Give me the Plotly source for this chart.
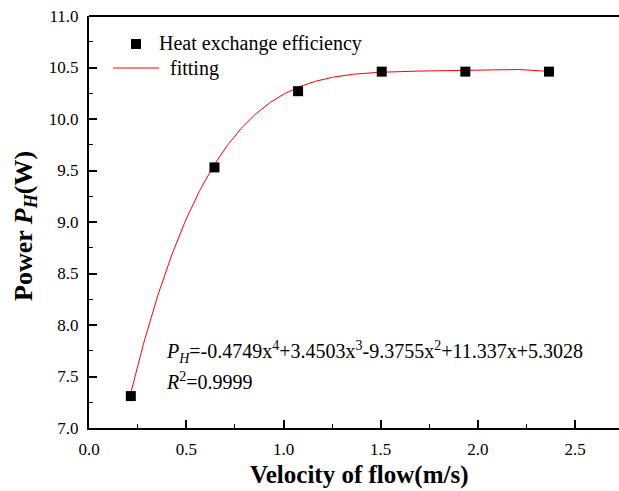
import numpy as np
import plotly.graph_objects as go

# Measured data: flow velocity (m/s) vs. heat power P_H (W)
velocity = [0.215, 0.645, 1.075, 1.505, 1.935, 2.365]
power = [7.31, 9.53, 10.27, 10.46, 10.46, 10.46]

# Quartic fit coefficients, highest power first
fit_coeffs = [-0.4749, 3.4503, -9.3755, 11.337, 5.3028]
r_squared = 0.9999

x_ticks = [0.0, 0.5, 1.0, 1.5, 2.0, 2.5]
y_ticks = [7.0, 7.5, 8.0, 8.5, 9.0, 9.5, 10.0, 10.5, 11.0]

series_names = ["Heat exchange efficiency", "fitting"]

FONT = "Liberation Serif"

# Plot-area geometry (px) used to place the hand-drawn legend
W, H = 619, 491
ML, MR, MT, MB = 89, 0, 16, 63
PW, PH = W - ML - MR, H - MT - MB


def px_x(p):
    return (p - ML) / PW


def px_y(p):
    return (H - MB - p) / PH


x_fit = np.linspace(velocity[0], velocity[-1], 300)
y_fit = np.polyval(fit_coeffs, x_fit)

fig = go.Figure()
fig.add_trace(go.Scatter(
    x=x_fit, y=y_fit, mode="lines", name=series_names[1],
    line=dict(color="red", width=1), showlegend=False,
))
fig.add_trace(go.Scatter(
    x=velocity, y=power, mode="markers", name=series_names[0],
    marker=dict(symbol="square", size=10, color="black"), showlegend=False,
))

axis_common = dict(
    showline=True, linecolor="black", linewidth=2,
    ticks="inside", ticklen=8, tickwidth=1.5, tickcolor="black",
    showgrid=False, zeroline=False,
    tickfont=dict(family=FONT, size=17, color="black"),
)

fig.update_xaxes(
    range=[0, 2.725], tickvals=x_ticks, ticktext=[f"{v:.1f}" for v in x_ticks],
    minor=dict(ticks="inside", ticklen=4, tickwidth=1, tickcolor="black", dtick=0.25, tick0=0),
    ticklabelstandoff=5,
    **axis_common,
)
fig.update_yaxes(
    range=[7.0, 11.0], tickvals=y_ticks, ticktext=[f"{v:.1f}" for v in y_ticks],
    minor=dict(ticks="inside", ticklen=4, tickwidth=1, tickcolor="black", dtick=0.25, tick0=7),
    ticklabelstandoff=5,
    **axis_common,
)


# Equation text built from the fit coefficients
def term(c, p):
    sign = "+" if c >= 0 else "-"
    mag = f"{abs(c):g}"
    if p == 0:
        return f"{sign}{mag}"
    if p == 1:
        return f"{sign}{mag}x"
    return f"{sign}{mag}x<sup>{p}</sup>"


eq = "".join(term(c, len(fit_coeffs) - 1 - i) for i, c in enumerate(fit_coeffs))
if eq.startswith("+"):
    eq = eq[1:]

fig.add_annotation(
    x=0.385, y=7.74, xref="x", yref="y", xanchor="left", yanchor="middle",
    text=f"<i>P</i><sub><i>H</i></sub>={eq}", showarrow=False,
    font=dict(family=FONT, size=20, color="black"),
)
fig.add_annotation(
    x=0.385, y=7.46, xref="x", yref="y", xanchor="left", yanchor="middle",
    text=f"<i>R</i><sup>2</sup>={r_squared}", showarrow=False,
    font=dict(family=FONT, size=20, color="black"),
)

# Axis titles
fig.add_annotation(
    x=px_x(25), y=px_y(226), xref="paper", yref="paper", textangle=-90,
    xanchor="center", yanchor="middle", showarrow=False,
    text="<b>Power <i>P</i><sub><i>H</i></sub>(W)</b>",
    font=dict(family=FONT, size=26, color="black"),
)
fig.add_annotation(
    x=px_x(359), y=px_y(475), xref="paper", yref="paper",
    xanchor="center", yanchor="middle", showarrow=False,
    text="<b>Velocity of flow(m/s)</b>",
    font=dict(family=FONT, size=25, color="black"),
)

# Legend: square swatch + red line swatch with labels
fig.add_shape(type="rect", xref="paper", yref="paper",
              x0=px_x(131), x1=px_x(141), y0=px_y(49), y1=px_y(39),
              fillcolor="black", line=dict(width=0))
fig.add_shape(type="line", xref="paper", yref="paper",
              x0=px_x(113), x1=px_x(159), y0=px_y(68), y1=px_y(68),
              line=dict(color="red", width=1))
fig.add_annotation(
    x=px_x(157), y=px_y(44), xref="paper", yref="paper",
    xanchor="left", yanchor="middle", showarrow=False,
    text=series_names[0], font=dict(family=FONT, size=20, color="black"),
)
fig.add_annotation(
    x=px_x(168), y=px_y(68), xref="paper", yref="paper",
    xanchor="left", yanchor="middle", showarrow=False,
    text=series_names[1], font=dict(family=FONT, size=20, color="black"),
)

# Top frame line
fig.add_shape(type="line", xref="paper", yref="paper", x0=0, x1=1, y0=1, y1=1,
              line=dict(color="black", width=2))

fig.update_layout(
    width=W, height=H,
    margin=dict(l=ML, r=MR, t=MT, b=MB),
    paper_bgcolor="white", plot_bgcolor="white",
    font=dict(family=FONT, color="black"),
    showlegend=False,
)

fig.write_html("out.html")
